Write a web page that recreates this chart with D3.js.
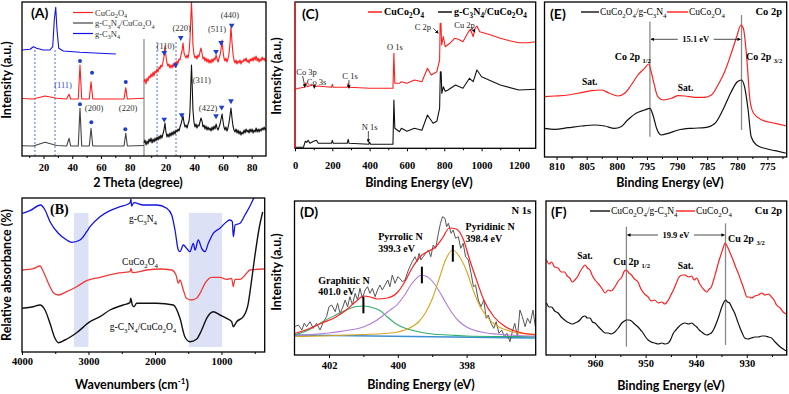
<!DOCTYPE html>
<html>
<head>
<meta charset="utf-8">
<script src="https://cdn.jsdelivr.net/npm/d3@7"></script>
<style>
body { margin: 0; background: #fff; }
.tick text { font-family: "Liberation Serif", serif; font-weight: 700; font-size: 10.5px; }
.tick line { stroke: #000; }
</style>
</head>
<body>
<div id="fig"></div>
<script>
// ---------- data ----------
// (A) XRD, 2 theta vs intensity
var aTicks = [20, 40, 60, 80], aMinor = [10, 30, 50, 70];
var aBlueL = [[5,106],[10.6,106.7],[12.9,109.3],[15.2,107.7],[19.8,106],[24.5,106],[26.4,109.3],[27.5,136],[28.5,148.7],[29.4,126],[30.6,107.7],[33.8,105],[45.4,103.7],[59.4,102.7],[70.4,102]];
var aRedL = [[5,57.5],[12.9,57],[21,60],[29.2,57.7],[36.1,57],[37.8,61.7],[38.9,57],[44.2,57],[45.4,91],[46.6,57],[51.9,57],[53.1,74.3],[54.3,57],[76.1,57],[77.3,68.3],[78.4,57],[90,57.7]];
var aGreyL = [[5,10.3],[12.9,10],[21,13.7],[29.2,10.5],[36.1,10],[37.8,17.7],[38.9,10],[44.2,10],[45.4,47.7],[46.6,10],[51.9,10],[53.1,27.7],[54.3,10],[76.1,10],[77.3,22.7],[78.4,10],[90,10.5]];
var aRedR = [[5,74],[5.7,77],[6.4,72],[7.1,78],[7.8,75],[8.5,80],[9.2,78],[9.9,82],[10.6,79],[11.3,84],[12,80],[12.7,85],[13.4,83],[14.1,87],[14.8,84],[15.5,89],[16.1,87],[16.8,91],[17.5,89],[18.2,94],[18.9,99],[19.6,110],[20.3,100],[21,93],[21.7,90],[22.4,92],[23.1,88],[23.8,91],[24.5,88],[25.2,92],[25.9,89],[26.6,94],[27.3,91],[28,95],[28.7,93],[29.4,97],[30.1,96],[30.8,101],[31.5,105],[32.2,113],[32.9,103],[33.6,100],[34.3,98],[35,101],[35.7,98],[36.4,104],[37,116],[37.7,140],[38.1,154],[38.6,135],[39.1,111],[39.8,102],[40.5,98],[41.2,100],[41.9,97],[42.6,101],[43.3,99],[44,104],[44.7,108],[45.4,103],[46.1,97],[46.8,99],[47.5,95],[48.2,98],[48.9,94],[49.6,97],[50.3,93],[51,96],[51.7,93],[52.4,97],[53.1,94],[53.8,98],[54.5,96],[55.2,101],[55.9,97],[56.6,94],[57.3,98],[58,101],[58.7,107],[59.4,116],[60.1,104],[60.7,98],[61.4,95],[62.1,98],[62.8,94],[63.5,97],[64.2,102],[64.9,112],[65.6,129],[66.3,114],[67,102],[67.7,96],[68.4,93],[69.1,96],[69.8,92],[70.5,95],[71.2,93],[71.9,96],[72.6,92],[73.3,95],[74,94],[74.7,97],[75.4,95],[76.1,98],[76.8,94],[77.5,96],[78.2,93],[78.9,97],[79.6,95],[80.3,98],[81,95],[81.7,99],[82.4,96],[83.1,100],[83.8,95],[84.5,98],[85.2,94],[85.9,97],[86.6,95],[87.3,99],[88,96],[88.7,98],[89.4,95],[90,97]];
var aBlackR = [[5,13],[5.7,16],[6.4,11],[7.1,15],[7.8,12],[8.5,17],[9.2,14],[9.9,18],[10.6,13],[11.3,17],[12,14],[12.7,18],[13.4,15],[14.1,19],[14.8,16],[15.5,20],[16.1,17],[16.8,21],[17.5,18],[18.2,22],[18.9,26],[19.6,33],[20.3,24],[21,19],[21.7,22],[22.4,19],[23.1,23],[23.8,20],[24.5,24],[25.2,21],[25.9,25],[26.6,22],[27.3,26],[28,24],[28.7,27],[29.4,25],[30.1,29],[30.8,32],[31.5,36],[32.2,40],[32.9,33],[33.6,29],[34.3,31],[35,28],[35.7,32],[36.4,35],[37,44],[37.7,75],[38.1,91],[38.6,70],[39.1,46],[39.8,34],[40.5,29],[41.2,32],[41.9,28],[42.6,31],[43.3,30],[44,34],[44.7,38],[45.4,35],[46.1,29],[46.8,31],[47.5,27],[48.2,30],[48.9,26],[49.6,29],[50.3,26],[51,28],[51.7,25],[52.4,29],[53.1,26],[53.8,30],[54.5,27],[55.2,32],[55.9,28],[56.6,26],[57.3,29],[58,32],[58.7,37],[59.4,42],[60.1,34],[60.7,29],[61.4,26],[62.1,29],[62.8,25],[63.5,28],[64.2,33],[64.9,40],[65.6,48],[66.3,38],[67,30],[67.7,26],[68.4,24],[69.1,27],[69.8,23],[70.5,26],[71.2,22],[71.9,25],[72.6,21],[73.3,24],[74,22],[74.7,26],[75.4,23],[76.1,27],[76.8,24],[77.5,26],[78.2,23],[78.9,27],[79.6,24],[80.3,27],[81,23],[81.7,26],[82.4,24],[83.1,28],[83.8,24],[84.5,27],[85.2,24],[85.9,27],[86.6,25],[87.3,28],[88,26],[88.7,29],[89.4,26],[90,28]];
var aDots = [[45.4,95],[53.8,83.3],[77.3,74],[45.4,51.7],[53.3,33.7],[77,26.7]];
var aTris = [[19.1,103.3],[27.1,91],[30.6,118.3],[55.2,104.3],[58.7,113.3],[66.1,130.7],[19.1,36.7],[31.3,41],[55.2,40],[59.1,48.7],[65.6,55]];
var aDashL = [14, 28], aDashR = [14.1, 27.3];
var aLabelsL = [["(111)",33.6,71],["(200)",55.2,48],["(220)",78.9,48]];
var aLabelsR = [["(110)",20.1,110],["(220)",31.3,128],["(311)",45.2,76],["(511)",55.9,127],["(440)",64.9,141],["(422)",49.6,48]];
var aNames = ["CuCo2O4", "g-C3N4/CuCo2O4", "g-C3N4"];

// (B) FTIR
var bTicks = [4000, 3000, 2000, 1000], bMinor = [3500, 2500, 1500, 500];
var bBands = [[3220, 3000], [1490, 990]];
var bBlue = [[3995,138.7],[3880,141.3],[3720,147],[3654,142],[3579,130.3],[3454,118.7],[3328,112],[3253,109.7],[3128,112],[3027,120.3],[2977,125.3],[2827,135.3],[2677,141.3],[2526,145.3],[2401,148],[2370,150],[2362,153],[2352,146],[2341,147],[2316,149.3],[2176,147],[1975,147],[1824,143.7],[1749,137],[1699,122],[1649,102],[1624,100.3],[1574,107],[1526,103.7],[1474,100.3],[1424,108.7],[1398,102],[1349,112],[1298,103.7],[1248,100.3],[1198,108.7],[1123,118.7],[1023,123.7],[922,130.3],[872,132],[837,130.3],[822,115.3],[795,127],[722,128.7],[647,137],[571,146],[500,156]];
var bRed = [[3995,82],[3830,83.3],[3729,86],[3679,80.3],[3579,65.3],[3529,59.3],[3454,57],[3328,60.3],[3178,65.3],[3027,71.3],[2827,74.7],[2576,78.7],[2376,80.3],[2361,83.7],[2341,79.3],[2125,82],[1925,83],[1749,82],[1684,77],[1649,68.7],[1624,72],[1574,62],[1526,53.7],[1451,52],[1376,53.7],[1323,58.7],[1248,68.7],[1148,74.7],[1023,74.7],[922,72.7],[847,73.7],[822,65.3],[797,72.7],[722,72.7],[622,78.7],[571,82],[360,83]];
var bBlack = [[3995,43.7],[3830,45.3],[3729,47],[3654,42],[3579,28.7],[3504,13.7],[3454,9.3],[3354,12],[3178,19.3],[2977,30.3],[2827,35.3],[2677,42],[2476,47],[2376,49.3],[2365,53.7],[2341,47],[2316,45.3],[2276,48.7],[1975,48.7],[1724,47],[1624,33.7],[1551,15.3],[1474,10.3],[1376,12.7],[1298,22],[1223,33.7],[1123,40.3],[1023,37],[922,33.7],[847,30.3],[822,25.3],[772,30.3],[672,35.3],[597,48.7],[560,65.3],[500,95],[430,125],[380,140]];
var bLabels = [["g-C3N4",2180,133],["CuCo2O4",2225,90],["g-C3N4/CuCo2O4",2180,25]];

// (C) XPS survey
var cTicks = [0, 200, 400, 600, 800, 1000, 1200], cMinor = [100, 300, 500, 700, 900, 1100];
var cRed = [[0,59],[20,60],[50,61],[58,65.6],[65,61.6],[95,63.3],[105,61.6],[120,62.3],[195,61],[200,64],[205,61],[280,61],[285,65],[290,61],[400,60],[525,60],[530,95],[535,65],[560,65],[570,66.6],[600,65],[640,68.3],[680,66.6],[710,80],[730,73.3],[760,76.6],[775,88.3],[778,125],[782,125],[786,103.3],[795,111.7],[805,101.6],[830,105],[855,110],[875,109],[900,106.6],[930,116.6],[940,119],[955,111.6],[965,120],[975,122.3],[990,116.6],[1050,113.3],[1100,110],[1150,107.6],[1200,105.6],[1250,105.6],[1290,106.6]];
var cBlack = [[0,1],[45,1],[50,4],[55,7],[62,6],[70,8],[80,5],[100,7],[115,8],[125,5],[195,5],[200,8],[205,5],[280,5],[285,9],[290,5],[395,4],[400,6],[405,4],[525,4],[530,48.3],[535,20],[560,16.6],[570,20],[600,17],[640,20],[680,18],[710,33.3],[740,25],[760,27],[775,40],[779,76.6],[783,76.6],[787,55],[795,61.6],[805,57],[820,58.3],[860,63.3],[900,60],[935,70],[955,66.6],[975,78.3],[1000,71.6],[1100,63.3],[1200,58.3],[1290,59]];
var cNotes = [["Co 3p",62,76.6],["Co 3s",116,66.6],["C 1s",295,72.3],["N 1s",400,21],["O 1s",536,101.6],["C 2p",685,121.6],["Cu 2p",909,123]];
var cArrows = [[41,72.3,53.6,61],[103.5,63.5,103.5,60],[289,68.3,289,60],[393,17.3,393,6],[741,120,768,115],[947,121,965,116]];

// (D) N 1s
var dTicks = [402, 400, 398], dMinor = [401, 399, 397];
var dGrey = [[403.00,10.3],[402.89,12],[402.79,7],[402.72,13.7],[402.65,10.3],[402.55,15.3],[402.46,8.7],[402.36,13.7],[402.26,7],[402.16,15.3],[402.07,20.3],[402.00,30.3],[401.92,32],[401.82,25.3],[401.75,33.7],[401.68,23.7],[401.61,28.7],[401.53,37],[401.46,30.3],[401.39,40.3],[401.32,32],[401.24,43.7],[401.17,37],[401.10,48.7],[401.03,38.7],[400.95,47],[400.88,50.3],[400.81,43.7],[400.74,48.7],[400.66,40.3],[400.59,47],[400.52,52],[400.45,47],[400.37,52],[400.29,57],[400.23,50.3],[400.16,62],[400.08,53.7],[400.00,60.3],[399.94,58.7],[399.87,55.3],[399.79,57],[399.71,65.3],[399.65,70.3],[399.58,75.3],[399.50,80.3],[399.44,75.3],[399.38,83.7],[399.33,77],[399.26,80.3],[399.19,83.7],[399.11,87],[399.04,80.3],[398.97,92],[398.90,88.7],[398.82,103.7],[398.76,113.7],[398.70,120.3],[398.63,118.7],[398.58,110.3],[398.53,113.7],[398.45,103.7],[398.39,107],[398.32,98.7],[398.24,100.3],[398.17,88.7],[398.10,93.7],[398.03,80.3],[397.95,77],[397.87,63.7],[397.80,50.3],[397.74,52],[397.66,37],[397.58,30.3],[397.50,37],[397.43,18.7],[397.37,22],[397.29,13.7],[397.21,8.7],[397.14,15.3],[397.06,3.7],[396.98,7],[396.90,0.3],[396.83,3.7],[396.74,-4.7],[396.67,5.3],[396.60,13.7],[396.52,0.3],[396.45,27],[396.38,20.3],[396.30,10.3],[396.23,18.7],[396.15,13.7],[396.07,27],[396.0,10]];
var dFit = [[403,3.5],[402.6,8],[402.2,14],[401.8,20],[401.5,27],[401.2,36],[401,41],[400.8,40],[400.6,38],[400.3,39],[400,45],[399.8,55],[399.6,68],[399.3,82],[399.1,86],[398.9,90],[398.7,99],[398.5,109],[398.3,108],[398.1,98],[397.9,76],[397.7,56],[397.5,37],[397.2,20],[396.9,11],[396.6,6],[396.3,3.5],[396,2.5]];
var dGraphitic = [[403,2],[402.6,7],[402.2,15],[401.8,22],[401.5,27],[401.2,30.5],[401,31],[400.8,30],[400.5,26],[400.3,20],[400,12],[399.8,9],[399.5,6],[399.3,4.5],[399,3],[398.5,2],[398,1],[397,0.5],[396,0.3]];
var dPyrrolic = [[403,1.5],[402.5,2.5],[402,4],[401.5,6.5],[401,10],[400.6,17],[400.3,25],[400,33],[399.8,42],[399.6,53],[399.3,62],[399,56],[398.8,46],[398.6,34],[398.4,23],[398.2,15],[398,10],[397.8,7],[397.5,4.5],[397,2.5],[396.5,1.5],[396,1]];
var dPyridinic = [[403,0.5],[402,1.2],[401,2.5],[400.4,3.5],[400,5],[399.8,7],[399.6,10],[399.4,15],[399.2,24],[399,38],[398.8,58],[398.6,78],[398.4,87],[398.2,80],[398,66],[397.8,46],[397.6,30],[397.4,20],[397.2,13],[397,9],[396.7,5.5],[396.4,3.5],[396,2]];
var dBase = [[403,2],[396,-1]];
var dMarks = [[401.0,23.7,40.3],[399.3,53.7,70.3],[398.4,75.3,92]];
var dLabels = [["Graphitic N",402.31,57],["401.0 eV",402.31,46],["Pyrrolic N",400.57,100.3],["399.3 eV",400.57,88.7],["Pyridinic N",398.03,110.3],["398.4 eV",398.03,98.7]];

// (E) Co 2p
var eTicks = [810, 805, 800, 795, 790, 785, 780, 775], eMinor = [807.5, 802.5, 797.5, 792.5, 787.5, 782.5, 777.5, 772.5];
var eRed = [[812.3,60.3],[810.3,61],[808.1,62],[805.9,64.3],[804.2,66.3],[802.5,67],[801.2,63.7],[799.8,61],[798.7,63.7],[797.6,72],[796.5,82],[795.4,88.7],[794.7,93],[794.3,85.3],[793.7,70.3],[793.2,60.3],[792.3,57],[790.9,58.7],[789.8,61.3],[788.7,61],[787,59.7],[785.4,59.7],[784.3,62],[783.2,72],[782.1,85.3],[781,103.7],[780.1,120.3],[779.4,132],[779,128.7],[778.4,97],[777.9,57],[777.3,43.7],[775.9,37],[773.7,33.7],[771.8,31]];
var eBlack = [[812.3,28.7],[810.3,27.7],[808.1,29.3],[805.9,31],[803.7,32],[802,31],[800.4,28.7],[799.3,30.3],[798.2,37],[796.8,43.7],[795.4,47],[794.5,48.7],[794,42],[793.4,28.7],[792.6,22],[791.5,23.7],[789.8,27],[787.6,28.7],[785.4,29.3],[783.7,33.7],[782.4,47],[781,65.3],[780,75.3],[779.3,77],[778.8,70.3],[778.2,47],[777.7,20.3],[776.8,12],[775.5,8.7],[773.7,6.3],[771.8,3.7]];
var ePeaks = [[794.5,20.3,135.3],[779.3,27,142]];
var eSplit = [794.5, 779.3, 117.7, "15.1 eV"];

// (F) Cu 2p
var fTicks = [960, 950, 940, 930], fMinor = [965, 955, 945, 935, 925];
var fRed = [[969.6,95],[969.1,91],[968.6,93],[968.0,88],[967.3,87],[966.7,83],[966.0,83],[965.5,79],[965.0,77],[964.5,73],[964.0,75],[963.5,78],[963.0,83],[962.5,87],[962.0,90],[961.5,87],[961.0,85],[960.5,79],[960.0,75],[959.3,71],[958.7,67],[958.0,62],[957.4,65],[956.8,64],[956.1,68],[955.4,74],[954.7,78],[954.2,84],[953.8,85],[953.3,82],[952.8,80],[952.2,76],[951.5,73],[951.1,68],[950.8,65],[950.2,61],[949.5,58],[948.9,54],[948.2,55],[947.5,52],[946.8,53],[946.2,51],[945.5,55],[945.0,60],[944.5,65],[944.0,71],[943.5,77],[942.8,80],[942.2,80],[941.5,78],[940.9,79],[940.4,75],[939.9,77],[939.4,72],[938.9,68],[938.4,65],[937.9,63],[937.4,66],[937.0,68],[936.5,76],[936.0,85],[935.5,94],[935.0,102],[934.6,108],[934.3,112],[934.0,110],[933.7,107],[933.2,101],[932.7,95],[932.2,88],[931.7,82],[931.2,75],[930.7,68],[930.3,62],[930.0,58],[929.5,58],[929.1,57],[928.4,59],[927.7,60],[927.0,62],[926.4,60],[925.7,61],[925.1,58],[924.6,55],[924.1,50],[923.4,47],[922.8,43],[922.2,41]];
var fBlack = [[969.6,52],[969.1,48],[968.6,48],[968.0,44],[967.3,42],[966.7,38],[966.0,35],[965.5,33],[965.0,32],[964.5,31],[964.0,32],[963.5,33],[963.0,35],[962.5,38],[962.0,39],[961.5,37],[961.0,37],[960.5,33],[960.0,32],[959.3,28],[958.7,25],[958.0,22],[957.4,22],[956.8,21],[956.1,23],[955.4,27],[954.7,32],[954.2,34],[953.8,35],[953.3,35],[952.8,34],[952.2,31],[951.5,28],[951.0,25],[950.5,22],[950.0,18],[949.5,15],[948.9,13],[948.2,12],[947.5,11],[946.8,12],[946.2,11],[945.5,12],[945.0,16],[944.5,22],[944.0,25],[943.5,28],[942.8,31],[942.2,32],[941.5,31],[940.9,32],[940.4,30],[939.9,28],[939.4,25],[938.9,23],[938.4,21],[937.9,20],[937.4,21],[937.0,22],[936.5,26],[936.0,32],[935.5,39],[935.0,47],[934.6,52],[934.2,55],[933.8,53],[933.4,52],[932.9,47],[932.4,42],[931.9,35],[931.4,28],[930.9,22],[930.4,17],[929.8,16],[929.1,17],[928.4,18],[927.7,18],[927.0,19],[926.4,19],[925.7,18],[925.1,17],[924.4,13],[923.8,10],[923.1,7],[922.5,5],[922.1,4]];
var fPeaks = [[953.8,8.3,128.3],[934.2,10,131.7]];
var fSplit = [953.8, 934.2, 120, "19.9 eV"];

// ---------- drawing ----------
var RED = "#ff1f1f", BLUE = "#1212e8", BLK = "#111", SERIF = "Liberation Serif, serif", SANS = "Lato, sans-serif";

var svg = d3.select("#fig").append("svg").attr("width", 789).attr("height", 394);
var defs = svg.append("defs");
defs.append("marker").attr("id", "ah").attr("viewBox", "0 0 10 10").attr("refX", 9).attr("refY", 5)
  .attr("markerWidth", 5).attr("markerHeight", 5).attr("orient", "auto-start-reverse")
  .append("path").attr("d", "M0,0L10,5L0,10z").attr("fill", "#000");

function clip(id, x0, y0, x1, y1) {
  defs.append("clipPath").attr("id", id).append("rect")
    .attr("x", x0).attr("y", y0).attr("width", x1 - x0).attr("height", y1 - y0);
}

function frame(x0, y0, x1, y1) {
  svg.append("rect").attr("x", x0).attr("y", y0).attr("width", x1 - x0).attr("height", y1 - y0)
    .attr("fill", "none").attr("stroke", "#000").attr("stroke-width", 1.3);
}

function axis(x, yPos, ticks, minor, pad) {
  svg.append("g").attr("transform", "translate(0," + yPos + ")")
    .call(d3.axisBottom(x).tickValues(ticks).tickSize(3).tickPadding(pad).tickSizeOuter(0).tickFormat(d3.format("d")))
    .call(g => g.select(".domain").remove());
  svg.append("g").attr("transform", "translate(0," + yPos + ")")
    .call(d3.axisBottom(x).tickValues(minor).tickSize(2).tickSizeOuter(0).tickFormat(""))
    .call(g => g.select(".domain").remove());
}

function curve(data, x, y, color, w, clipId, type) {
  svg.append("path").datum(data)
    .attr("fill", "none").attr("stroke", color).attr("stroke-width", w).attr("stroke-linejoin", "round")
    .attr("clip-path", clipId ? "url(#" + clipId + ")" : null)
    .attr("d", d3.line().x(d => x(d[0])).y(d => y(d[1])).curve(type || d3.curveLinear));
}

function chem(t, s, fs) {
  var low = false;
  s.match(/\d+|\D+/g).forEach(function (p) {
    var sp = t.append("tspan").text(p);
    if (/\d/.test(p)) { sp.attr("font-size", fs * 0.72).attr("dy", low ? 0 : fs * 0.3); low = true; }
    else if (low) { sp.attr("dy", -fs * 0.3); low = false; }
  });
}

function text(x, y, s, o) {
  o = o || {};
  var fs = o.fs || 9;
  var t = svg.append("text").attr("x", x).attr("y", y)
    .attr("font-family", o.ff || SERIF).attr("font-size", fs).attr("font-weight", o.fw || "normal")
    .attr("fill", o.c || "#000").attr("text-anchor", o.a || "start");
  if (o.chem) chem(t, s, fs); else t.text(s);
  return t;
}

// subscript level label, e.g. Co 2p 1/2
function level(x, y, main, sub, fs) {
  var t = svg.append("text").attr("x", x).attr("y", y).attr("font-family", SERIF)
    .attr("font-size", fs).attr("font-weight", "bold");
  t.append("tspan").text(main + " ");
  t.append("tspan").text(sub).attr("font-size", fs * 0.65).attr("dy", fs * 0.3);
}

function title(x, y, s, rot) {
  var t = svg.append("text").attr("x", x).attr("y", y).attr("font-family", SANS).attr("font-weight", 700)
    .attr("font-size", 12.5).attr("text-anchor", "middle").text(s);
  if (rot) t.attr("transform", "rotate(-90," + x + "," + y + ")");
  return t;
}

// ===== (A) =====
var xAL = d3.scaleLinear().domain([5, 90]).range([22, 144]);
var xAR = d3.scaleLinear().domain([5, 90]).range([144, 266]);
var yA = d3.scaleLinear().domain([0, 154]).range([156, 2]);
clip("cA", 22, 2, 266, 156);
aDashL.forEach(v => svg.append("line").attr("x1", xAL(v)).attr("x2", xAL(v)).attr("y1", yA(106)).attr("y2", yA(0))
  .attr("stroke", "#3d5bd6").attr("stroke-width", 0.9).attr("stroke-dasharray", "2,2"));
aDashR.forEach(v => svg.append("line").attr("x1", xAR(v)).attr("x2", xAR(v)).attr("y1", yA(114)).attr("y2", yA(0))
  .attr("stroke", "#3d5bd6").attr("stroke-width", 0.9).attr("stroke-dasharray", "2,2"));
svg.append("line").attr("x1", 144).attr("x2", 144).attr("y1", yA(117)).attr("y2", yA(0)).attr("stroke", "#888").attr("stroke-width", 1.2);
curve(aBlueL, xAL, yA, BLUE, 1.1, "cA");
curve(aRedL, xAL, yA, RED, 1.1, "cA");
curve(aGreyL, xAL, yA, "#444", 1.1, "cA");
curve(aRedR, xAR, yA, RED, 1.1, "cA");
curve(aBlackR, xAR, yA, BLK, 1.1, "cA");
svg.selectAll(".adot").data(aDots).enter().append("circle")
  .attr("cx", d => xAL(d[0])).attr("cy", d => yA(d[1])).attr("r", 2).attr("fill", "#1f3fd0");
svg.selectAll(".atri").data(aTris).enter().append("path")
  .attr("d", d3.symbol(d3.symbolTriangle, 14))
  .attr("transform", d => "translate(" + xAR(d[0]) + "," + yA(d[1]) + ") rotate(180)").attr("fill", "#1f3fd0");
aLabelsL.forEach((d, i) => text(xAL(d[1]), yA(d[2]) + 3, d[0], { fs: 8.5, a: "middle", c: i == 0 ? "#3448c8" : "#333" }));
aLabelsR.forEach(d => text(xAR(d[1]), yA(d[2]) + 3, d[0], { fs: 8.5, a: "middle", c: "#333" }));
[RED, "#444", BLUE].forEach((c, i) => {
  svg.append("line").attr("x1", 73).attr("x2", 93).attr("y1", 12.5 + i * 10.5).attr("y2", 12.5 + i * 10.5).attr("stroke", c).attr("stroke-width", 1.2);
  text(95, 15.5 + i * 10.5, aNames[i], { fs: 8.5, chem: true, c: "#333" });
});
frame(22, 2, 266, 156);
axis(xAL, 156, aTicks, aMinor, 4.5);
axis(xAR, 156, aTicks, aMinor, 4.5);
text(31, 18, "(A)", { ff: SANS, fw: 700, fs: 14 });
title(138, 187, "2 Theta (degree)");
title(11, 80, "Intensity (a.u.)", true);

// ===== (B) =====
var xB = d3.scaleLinear().domain([4000, 350]).range([22, 264.7]);
var yB = d3.scaleLinear().domain([0, 154]).range([352, 198]);
clip("cB", 22, 198, 264.7, 352);
bBands.forEach(b => svg.append("rect").attr("x", xB(b[0])).attr("width", xB(b[1]) - xB(b[0]))
  .attr("y", yB(139)).attr("height", yB(5) - yB(139)).attr("fill", "#dde1f6"));
curve(bBlue, xB, yB, BLUE, 1.3, "cB", d3.curveMonotoneX);
curve(bRed, xB, yB, "#f03a3a", 1.3, "cB", d3.curveMonotoneX);
curve(bBlack, xB, yB, BLK, 1.4, "cB", d3.curveMonotoneX);
bLabels.forEach(d => text(xB(d[1]), yB(d[2]) + 3, d[0], { fs: 9.5, a: "middle", chem: true }));
frame(22, 198, 264.7, 352);
axis(xB, 352, bTicks, bMinor, 2.5);
text(50, 214, "(B)", { fw: 700, fs: 14 });
var wn = title(132, 389, "Wavenumbers (cm");
wn.append("tspan").text("-1").attr("font-size", 8).attr("dy", -5);
wn.append("tspan").text(")").attr("dy", 5);
title(11, 275, "Relative absorbance (%)", true);

// ===== (C) =====
var xC = d3.scaleLinear().domain([0, 1290]).range([295, 535.7]);
var yC = d3.scaleLinear().domain([0, 146.3]).range([148.3, 2]);
clip("cC", 295, 2, 535.7, 148.3);
curve(cRed, xC, yC, RED, 1.1, "cC");
curve(cBlack, xC, yC, BLK, 1.1, "cC");
cNotes.forEach(d => text(xC(d[1]), yC(d[2]) + 3, d[0], { fs: 8.5, a: "middle", c: "#222" }));
cArrows.forEach(d => svg.append("line").attr("x1", xC(d[0])).attr("y1", yC(d[1])).attr("x2", xC(d[2])).attr("y2", yC(d[3]))
  .attr("stroke", "#000").attr("stroke-width", 0.7).attr("marker-end", "url(#ah)"));
frame(295, 2, 535.7, 148.3);
svg.append("line").attr("x1", 295).attr("x2", 295).attr("y1", 2).attr("y2", 148.3).attr("stroke", RED).attr("stroke-width", 1.3);
axis(xC, 148.3, cTicks, cMinor, 10);
text(302, 19, "(C)", { ff: SANS, fw: 700, fs: 14 });
svg.append("line").attr("x1", 368).attr("x2", 382).attr("y1", 12).attr("y2", 12).attr("stroke", RED).attr("stroke-width", 1.5);
text(384, 15, "CuCo2O4", { fs: 10, fw: 700, chem: true });
svg.append("line").attr("x1", 438).attr("x2", 452).attr("y1", 12).attr("y2", 12).attr("stroke", BLK).attr("stroke-width", 1.5);
text(454, 15, "g-C3N4/CuCo2O4", { fs: 10, fw: 700, chem: true });
title(419, 187, "Binding Energy (eV)");
title(281, 76, "Intensity (a.u.)", true);

// ===== (D) =====
var xD = d3.scaleLinear().domain([403, 396]).range([294.6, 535.4]);
var yD = d3.scaleLinear().domain([-18, 136]).range([355, 201]);
clip("cD", 294.5, 201, 535.7, 355);
curve(dBase, xD, yD, "#3a8fd6", 1.6, "cD");
curve(dGrey, xD, yD, "#555", 1, "cD");
curve(dGraphitic, xD, yD, "#2fae6a", 1.1, "cD", d3.curveMonotoneX);
curve(dPyrrolic, xD, yD, "#b07ad8", 1.1, "cD", d3.curveMonotoneX);
curve(dPyridinic, xD, yD, "#d9a21a", 1.1, "cD", d3.curveMonotoneX);
curve(dFit, xD, yD, RED, 1.2, "cD", d3.curveMonotoneX);
dMarks.forEach(d => svg.append("line").attr("x1", xD(d[0])).attr("x2", xD(d[0])).attr("y1", yD(d[1])).attr("y2", yD(d[2]))
  .attr("stroke", "#000").attr("stroke-width", 2));
dLabels.forEach(d => text(xD(d[1]), yD(d[2]) + 3.5, d[0], { fs: 10, fw: 700 }));
frame(294.5, 201, 535.7, 355);
axis(xD, 355, dTicks, dMinor, 4);
text(300, 217, "(D)", { ff: SANS, fw: 700, fs: 14 });
text(531, 214, "N 1s", { fs: 10.5, fw: 700, a: "end" });
title(421, 389, "Binding Energy (eV)");
title(281, 272, "Intensity (a.u.)", true);

// ===== (E) and (F) =====
function xpsPanel(x, y, clipId, red, black, peaks, split) {
  peaks.forEach(p => svg.append("line").attr("x1", x(p[0])).attr("x2", x(p[0])).attr("y1", y(p[1])).attr("y2", y(p[2]))
    .attr("stroke", "#888").attr("stroke-width", 1.3));
  curve(red, x, y, RED, 1.2, clipId, d3.curveMonotoneX);
  curve(black, x, y, BLK, 1.2, clipId, d3.curveMonotoneX);
  svg.append("line").attr("x1", x(split[0]) + 1).attr("x2", x(split[1]) - 1).attr("y1", y(split[2])).attr("y2", y(split[2]))
    .attr("stroke", "#000").attr("stroke-width", 0.7).attr("marker-start", "url(#ah)").attr("marker-end", "url(#ah)");
  var cx = (x(split[0]) + x(split[1])) / 2;
  svg.append("rect").attr("x", cx - 18).attr("y", y(split[2]) - 5).attr("width", 36).attr("height", 10).attr("fill", "#fff");
  text(cx, y(split[2]) + 3, split[3], { fs: 8.5, fw: 700, a: "middle" });
}

var xE = d3.scaleLinear().domain([812, 771.8]).range([544.5, 786.7]);
var yE = d3.scaleLinear().domain([0, 155]).range([157, 2]);
clip("cE", 544.5, 2, 786.7, 157);
xpsPanel(xE, yE, "cE", eRed, eBlack, ePeaks, eSplit);
level(xE(800.35), yE(99.7) + 3, "Co 2p", "1/2", 10);
level(xE(778.55), yE(100.3) + 3, "Co 2p", "3/2", 10);
text(xE(804.5), yE(75.3) + 3, "Sat.", { fs: 9.5, fw: 700, a: "middle" });
text(xE(788.6), yE(68.7) + 3, "Sat.", { fs: 9.5, fw: 700, a: "middle" });
frame(544.5, 2, 786.7, 157);
axis(xE, 157, eTicks, eMinor, 3);
text(550, 19, "(E)", { ff: SANS, fw: 700, fs: 14 });
svg.append("line").attr("x1", 581).attr("x2", 599).attr("y1", 12).attr("y2", 12).attr("stroke", BLK).attr("stroke-width", 1.4);
text(600, 15, "CuCo2O4/g-C3N4", { fs: 9.5, chem: true });
svg.append("line").attr("x1", 667).attr("x2", 688).attr("y1", 12).attr("y2", 12).attr("stroke", RED).attr("stroke-width", 1.4);
text(689, 15, "CuCo2O4", { fs: 9.5, chem: true });
text(782, 15, "Co 2p", { fs: 10.5, fw: 700, a: "end" });
title(670, 187, "Binding Energy (eV)");

var xF = d3.scaleLinear().domain([969.7, 922.1]).range([546, 786.7]);
var yF = d3.scaleLinear().domain([0, 154]).range([355, 201]);
clip("cF", 546, 201, 786.7, 355);
xpsPanel(xF, yF, "cF", fRed, fBlack, fPeaks, fSplit);
level(xF(956.4), yF(93.3) + 3, "Cu 2p", "1/2", 10);
level(xF(933.7), yF(115.7) + 3, "Cu 2p", "3/2", 10);
text(xF(962.0), yF(99.3) + 3, "Sat.", { fs: 9.5, fw: 700, a: "middle" });
text(xF(942.1), yF(89) + 3, "Sat.", { fs: 9.5, fw: 700, a: "middle" });
frame(546, 201, 786.7, 355);
axis(xF, 355, fTicks, fMinor, 2);
text(551, 217, "(F)", { ff: SANS, fw: 700, fs: 14 });
svg.append("line").attr("x1", 590).attr("x2", 610).attr("y1", 211).attr("y2", 211).attr("stroke", BLK).attr("stroke-width", 1.4);
text(611, 214, "CuCo2O4/g-C3N4", { fs: 9.5, chem: true });
svg.append("line").attr("x1", 676).attr("x2", 695).attr("y1", 211).attr("y2", 211).attr("stroke", RED).attr("stroke-width", 1.4);
text(696, 214, "CuCo2O4", { fs: 9.5, chem: true });
text(782, 214, "Cu 2p", { fs: 10.5, fw: 700, a: "end" });
title(671, 390, "Binding Energy (eV)");
</script>
</body>
</html>
